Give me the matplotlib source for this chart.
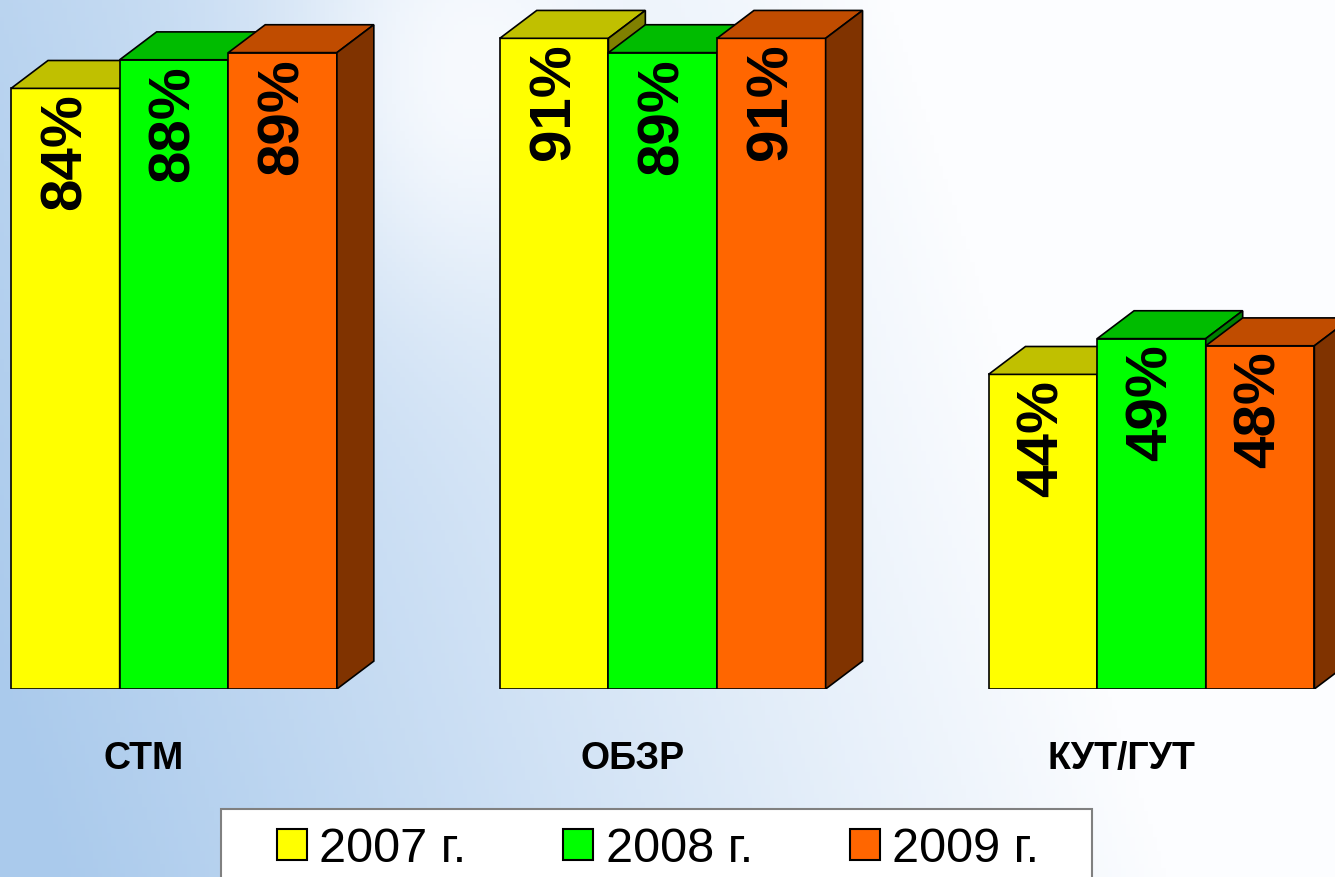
import numpy as np
import matplotlib.pyplot as plt
from matplotlib.patches import Rectangle, Polygon, Patch

# data
categories = ['СТМ', 'ОБЗР', 'КУТ/ГУТ']
years = ['2007 г.', '2008 г.', '2009 г.']
v2007 = [84, 91, 44]
v2008 = [88, 89, 49]
v2009 = [89, 91, 48]
series = [v2007, v2008, v2009]

# front / top / side shades per series
front = ['#FFFF00', '#00FF00', '#FF6600']
top = ['#C0C000', '#00BC00', '#C04C00']
side = ['#808000', '#008000', '#803300']

W, H = 1335, 878
fig = plt.figure(figsize=(W / 100, H / 100), dpi=100)
plt.rcParams['font.family'] = ['Liberation Sans', 'DejaVu Sans']

# soft blue-to-white background with a faint glare
ax_bg = fig.add_axes([0, 0, 1, 1], zorder=0)
xx, yy = np.meshgrid(np.linspace(0, 1, 300), np.linspace(0, 1, 200))
t = np.clip(xx * 1.2 + (1 - yy) * 0.25 - 0.05, 0, 1)
glare = 0.35 * np.exp(-(((xx - 0.33) / 0.12) ** 2 + ((yy - 0.1) / 0.25) ** 2))
t = np.clip(t + glare, 0, 1)[..., None]
blue = np.array([170, 202, 236]) / 255
white = np.array([252, 253, 255]) / 255
ax_bg.imshow(blue * (1 - t) + white * t, aspect='auto', extent=[0, 1, 0, 1], origin='upper')
ax_bg.axis('off')

# main axes: zero line at pixel 690, ~7.15 px per percent
ax = fig.add_axes([0, 188 / H, 1, 690 / H], zorder=1)
ax.patch.set_visible(False)
ax.set_xlim(-1.602, 10.69)
ax.set_ylim(0, 96.5)

group_pos = np.arange(len(categories)) * 4.5
offsets = [-1, 0, 1]
dx, dy = 0.34, 3.9
lw = 1.2

z = 2
for g, gx in enumerate(group_pos):
    for s in range(3):
        v = series[s][g]
        x0 = gx + offsets[s] - 0.5
        x1 = x0 + 1
        ax.add_patch(Rectangle((x0, 0), 1, v, fc=front[s], ec='black', lw=lw, zorder=z))
        ax.add_patch(Polygon([(x0, v), (x1, v), (x1 + dx, v + dy), (x0 + dx, v + dy)],
                             closed=True, fc=top[s], ec='black', lw=lw, zorder=z))
        ax.add_patch(Polygon([(x1, 0), (x1 + dx, dy), (x1 + dx, v + dy), (x1, v)],
                             closed=True, fc=side[s], ec='black', lw=lw, zorder=z))
        ax.text(gx + offsets[s], v - 0.6, f'{v}%', rotation=90, ha='center', va='top',
                fontsize=42, fontweight='bold', color='black', zorder=z + 0.5)
        z += 1

ax.set_xticks(group_pos - 0.28)
ax.set_xticklabels(categories, fontsize=27, fontweight='bold')
ax.tick_params(axis='x', length=0, pad=37)
ax.set_yticks([])
for sp in ax.spines.values():
    sp.set_visible(False)

# legend box
fig.patches.append(Rectangle((221 / W, -0.02), 871 / W, (H - 810) / H + 0.02,
                             transform=fig.transFigure, fc='white', ec='#808080', lw=1.5, zorder=2))
handles = [Patch(fc=front[i], ec='black', lw=1.5) for i in range(3)]
fig.legend(handles, years, loc='center', bbox_to_anchor=(658 / W, 1 - 850 / H), ncol=3,
           frameon=False, fontsize=35, handlelength=0.62, handleheight=0.62,
           handletextpad=0.25, columnspacing=2.0)

plt.savefig('out.png', dpi=100)
